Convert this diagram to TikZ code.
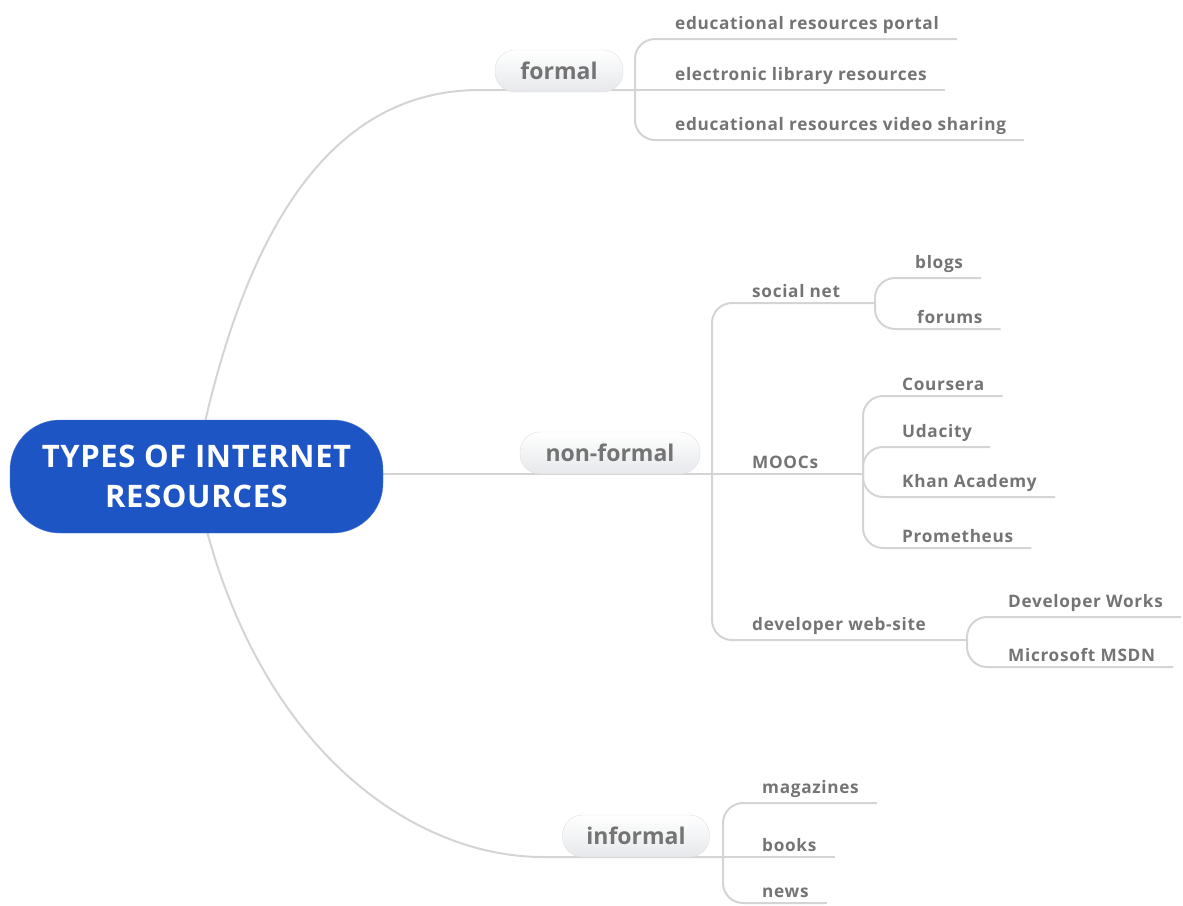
\documentclass[tikz,border=0pt]{standalone}
\usepackage{fontspec}
\setmainfont{Open Sans}
\newfontfamily\trleaffont[LetterSpace=4]{Open Sans}
\newfontfamily\trrootfont[LetterSpace=2]{Open Sans}
\usepackage{tikz}
\usetikzlibrary{
  positioning,
  calc,
  backgrounds
}
\definecolor{trRoot}{HTML}{1E55C4}
\definecolor{trLine}{HTML}{D4D4D4}
\definecolor{trText}{HTML}{747474}
\definecolor{trPill}{HTML}{E6E8EB}
\tikzset{
  root/.style={
    draw=trRoot!80!white, fill=trRoot, rounded corners=50pt,
    minimum width=373pt, minimum height=113pt, align=center,
    text=white, font=\trrootfont\fontsize{31}{40}\selectfont\bfseries
  },
  topic/.style={
    draw=black!12, rounded corners=20pt, top color=white, bottom color=trPill,
    minimum height=42pt, text=trText, font=\fontsize{23}{26}\selectfont\bfseries
  },
  leaf/.style={
    anchor=south west, inner xsep=0pt, inner ysep=5pt,
    text=trText, font=\trleaffont\fontsize{17.2}{20}\selectfont\bfseries
  },
  branch/.style={draw=trLine, line width=2pt, rounded corners=20pt}
}
\begin{document}
\begin{tikzpicture}[x=1pt, y=-1pt]
  \useasboundingbox (0,0) rectangle (1183,905);
  % centre and main topics
  \node[root] (root) at (196.5,476.5) {TYPES OF INTERNET\\RESOURCES};
  \node[topic, minimum width=128pt] (formal) at (559,71) {formal};
  \node[topic, minimum width=180pt] (nonformal) at (610,453) {non-formal};
  \node[topic, minimum width=147pt] (informal) at (636,836) {informal};
  \coordinate (fhub) at (635,90);
  \coordinate (nfhub) at (712,474);
  \coordinate (ihub) at (723,857);
  % formal
  \node[leaf] (portal) at (675,39) {educational resources portal};
  \node[leaf] (elib) at (675,90) {electronic library resources};
  \node[leaf] (video) at (675,140) {educational resources video sharing};
  % non-formal
  \node[leaf] (social) at (752,303) {social net};
  \node[leaf] (moocs) at (752,474) {MOOCs};
  \node[leaf] (devsite) at (752,640) {developer web-site};
  \coordinate (shub) at (875,303);
  \coordinate (mhub) at (863,474);
  \coordinate (dhub) at (967,640);
  \node[leaf] (blogs) at (915,278) {blogs};
  \node[leaf] (forums) at (917,329) {forums};
  \node[leaf] (coursera) at (902,396) {Coursera};
  \node[leaf] (udacity) at (902,447) {Udacity};
  \node[leaf] (khan) at (902,497) {Khan Academy};
  \node[leaf] (prom) at (902,548) {Prometheus};
  \node[leaf] (devworks) at (1008,617) {Developer Works};
  \node[leaf] (msdn) at (1008,667) {Microsoft MSDN};
  % informal
  \node[leaf] (mag) at (762,803) {magazines};
  \node[leaf] (books) at (762,857) {books};
  \node[leaf] (news) at (762,903) {news};
  \begin{scope}[on background layer]
    \draw[branch] ($(root.north)+(9,0)$) .. controls (250,230) and (330,90) .. (500,90) -- (fhub);
    \draw[branch] (root.east |- nfhub) -- (nfhub);
    \draw[branch] ($(root.south)+(11,0)$) .. controls (270,760) and (420,857) .. (563,857) -- (ihub);
    \draw[branch] (fhub) |- ($(portal.south east)+(18,0)$);
    \draw[branch] (fhub) -- ($(elib.south east)+(18,0)$);
    \draw[branch] (fhub) |- ($(video.south east)+(18,0)$);
    \draw[branch] (nfhub) |- (shub);
    \draw[branch] (nfhub) -- (mhub);
    \draw[branch] (nfhub) |- (dhub);
    \draw[branch] (shub) |- ($(blogs.south east)+(18,0)$);
    \draw[branch] (shub) |- ($(forums.south east)+(18,0)$);
    \draw[branch] (mhub) |- ($(coursera.south east)+(18,0)$);
    \draw[branch] (mhub) |- ($(udacity.south east)+(18,0)$);
    \draw[branch] (mhub) |- ($(khan.south east)+(18,0)$);
    \draw[branch] (mhub) |- ($(prom.south east)+(18,0)$);
    \draw[branch] (dhub) |- ($(devworks.south east)+(18,0)$);
    \draw[branch] (dhub) |- ($(msdn.south east)+(18,0)$);
    \draw[branch] (ihub) |- ($(mag.south east)+(18,0)$);
    \draw[branch] (ihub) -- ($(books.south east)+(18,0)$);
    \draw[branch] (ihub) |- ($(news.south east)+(18,0)$);
  \end{scope}
\end{tikzpicture}
\end{document}
